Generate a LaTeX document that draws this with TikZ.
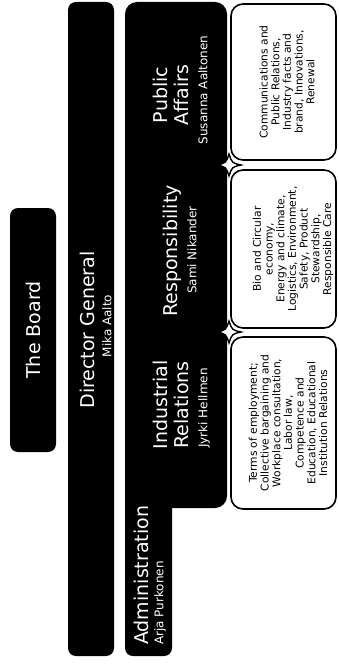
\documentclass[tikz,border=0pt]{standalone}
\usepackage{fontspec}
\setmainfont{DejaVu Sans}
\begin{document}
\begin{tikzpicture}[x=1pt,y=-1pt,
  blk/.style={fill=black, rounded corners=8pt},
  ttl/.style={rotate=90, text=white, font=\fontsize{19}{21}\selectfont, inner sep=0pt},
  nm/.style={rotate=90, text=white, font=\fontsize{12}{14}\selectfont, inner sep=0pt},
  wbox/.style={draw=black, line width=1.6pt, fill=white, rounded corners=12pt},
  wtxt/.style={rotate=90, align=center, font=\fontsize{10.7}{11.7}\selectfont, inner sep=0pt},
  star/.style={fill=white, draw=black, line width=1.4pt}]
\useasboundingbox (0,0) rectangle (338,668);
% The Board
\fill[blk] (10,208) rectangle (56,452);
\node[ttl] (board) at (33,330) {The Board};
% Director General
\fill[blk] (68,2) rectangle (114,656);
\node[ttl] (dg) at (87,330) {Director General};
\node[nm] (dgn) at (107,326) {Mika Aalto};
% Units block and administration leg
\fill[rounded corners=12pt] (125,2) rectangle (227,508);
\fill[blk] (125,300) rectangle (172,656);
\node[ttl, anchor=west] (adm) at (141,645) {Administration};
\node[nm, anchor=west] (admn) at (160,645) {Arja Purkonen};
\node[ttl] (ir1) at (160,405) {Industrial};
\node[ttl] (ir2) at (181,405) {Relations};
\node[nm] (irn) at (204,408) {Jyrki Hellmen};
\node[ttl] (resp) at (172,251) {Responsibility};
\node[nm] (respn) at (192,250) {Sami Nikander};
\node[ttl] (pa1) at (160,95) {Public};
\node[ttl] (pa2) at (181,95) {Affairs};
\node[nm] (pan) at (203,90) {Susanna Aaltonen};
% White boxes
\filldraw[wbox] (231,4) rectangle (336,160);
\filldraw[wbox] (231,170) rectangle (336,328);
\filldraw[wbox] (231,337) rectangle (336,509);
\node[wtxt] (comm) at (287,82) {Communications and\\Public Relations,\\Industry facts and\\brand, Innovations,\\Renewal};
\node[wtxt] (bio) at (293,249) {Bio and Circular\\economy,\\Energy and climate,\\Logistics, Environment,\\Safety, Product\\Stewardship,\\Responsible Care};
\node[wtxt] (terms) at (288,423) {Terms of employment;\\Collective bargaining and\\Workplace consultation,\\Labor law,\\Competence and\\Education, Educational\\Institution Relations};
% Star joints
\foreach \yy in {165,332}{
  \filldraw[star] (217,\yy) .. controls (226,\yy-2) .. (229,\yy-11)
     .. controls (232,\yy-2) .. (241,\yy)
     .. controls (232,\yy+2) .. (229,\yy+11)
     .. controls (226,\yy+2) .. (217,\yy) -- cycle;
}
\end{tikzpicture}
\end{document}
